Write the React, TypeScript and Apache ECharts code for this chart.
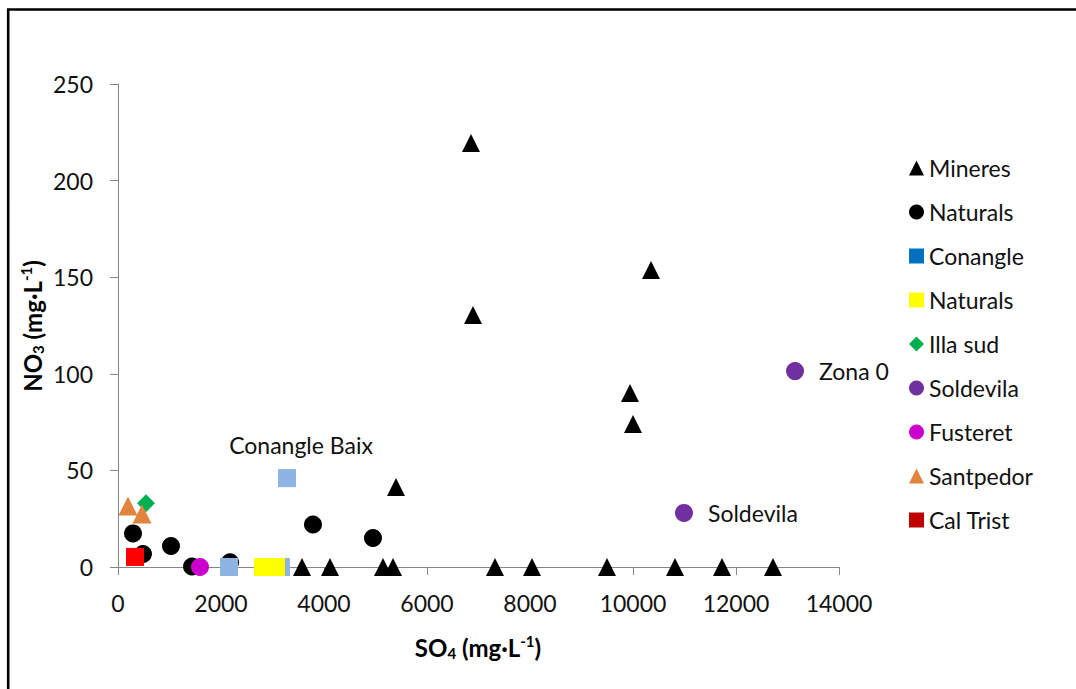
import React, { useEffect, useRef } from "react";
import * as echarts from "echarts";

const xTicks = [0, 14000, 2000];
const yTicks = [0, 250, 50];

const mineresX = [6854, 6893, 10350, 9942, 10000, 5398, 3573, 4117, 5146, 5340, 7320, 8039, 9495, 10816, 11728, 12718];
const mineresY = [219.5, 130.4, 153.7, 90.1, 74, 41.4, 0, 0, 0, 0, 0, 0, 0, 0, 0, 0];
const naturalsX = [291, 485, 1029, 1437, 2175, 3786, 4951];
const naturalsY = [17.4, 6.7, 10.9, 0.3, 2.5, 22, 15];
const conangleX = [3282, 2155, 3165];
const conangleY = [46, 0, 0];
const conangleLabels = ["Conangle Baix", "", ""];
const naturals2X = [2816, 3068];
const naturals2Y = [0, 0];
const illaX = [544];
const illaY = [33];
const soldevilaX = [13146, 10990];
const soldevilaY = [101.4, 28];
const soldevilaLabels = ["Zona 0", "Soldevila"];
const fusteretX = [1592];
const fusteretY = [0];
const santpedorX = [194, 466];
const santpedorY = [31.6, 27.4];
const calTristX = [330];
const calTristY = [5.2];

const legendNames = ["Mineres", "Naturals", "Conangle", "Naturals 2", "Illa sud", "Soldevila", "Fusteret", "Santpedor", "Cal Trist"];
const legendLabels = ["Mineres", "Naturals", "Conangle", "Naturals", "Illa sud", "Soldevila", "Fusteret", "Santpedor", "Cal Trist"];

const FONT = "Lato";

function pts(xs: number[], ys: number[]) {
  return xs.map((x, i) => [x, ys[i]]);
}

export default function App() {
  const ref = useRef<HTMLDivElement>(null);
  useEffect(() => {
    if (!ref.current) return;
    const chart = echarts.init(ref.current, null, { renderer: "svg" });
    const labelStyle = { fontFamily: FONT, fontSize: 23, color: "#111111" };
    const it = (color: string) => ({ color, opacity: 1 });
    const titleRich = {
      b: { fontFamily: FONT, fontSize: 24, fontWeight: "bold", fill: "#000" },
      sub: { fontFamily: FONT, fontSize: 15, fontWeight: "bold", fill: "#000", padding: [12, 0, 0, 0] },
      sup: { fontFamily: FONT, fontSize: 15, fontWeight: "bold", fill: "#000", padding: [0, 0, 12, 0] },
    };
    const option: any = {
      animation: false,
      backgroundColor: "#ffffff",
      grid: { left: 118, top: 84, right: 237, bottom: 122, containLabel: false },
      xAxis: {
        type: "value",
        min: xTicks[0],
        max: xTicks[1],
        interval: xTicks[2],
        splitLine: { show: false },
        axisLine: { onZero: false, lineStyle: { color: "#868686", width: 1 } },
        axisTick: { show: true, length: 8, lineStyle: { color: "#868686" } },
        axisLabel: {
          margin: 24,
          fontFamily: FONT,
          fontSize: 23,
          color: "#111111",
          formatter: (v: number) => String(v),
        },
      },
      yAxis: {
        type: "value",
        min: yTicks[0],
        max: yTicks[1],
        interval: yTicks[2],
        splitLine: { show: false },
        axisLine: { show: true, onZero: false, lineStyle: { color: "#868686", width: 1 } },
        axisTick: { show: true, length: 8, lineStyle: { color: "#868686" } },
        axisLabel: { margin: 25, fontFamily: FONT, fontSize: 23, color: "#111111", formatter: (v: number) => String(v) },
      },
      legend: {
        orient: "vertical",
        left: 904,
        top: 148,
        itemWidth: 15,
        itemHeight: 15,
        itemGap: 14,
        formatter: (name: string) => legendLabels[legendNames.indexOf(name)],
        textStyle: { fontFamily: FONT, fontSize: 23, color: "#111111", lineHeight: 30 },
        data: [
          { name: "Mineres", icon: "triangle" },
          { name: "Naturals", icon: "circle" },
          { name: "Conangle", icon: "rect" },
          { name: "Naturals 2", icon: "rect" },
          { name: "Illa sud", icon: "diamond" },
          { name: "Soldevila", icon: "circle" },
          { name: "Fusteret", icon: "circle" },
          { name: "Santpedor", icon: "triangle" },
          { name: "Cal Trist", icon: "rect" },
        ],
      },
      graphic: [
        {
          type: "rect",
          shape: { x: 8.2, y: 9.5, width: 2000, height: 2000 },
          style: { fill: "none", stroke: "#000", lineWidth: 2.6 },
          silent: true,
        },
        {
          type: "text",
          x: 32,
          y: 326,
          rotation: Math.PI / 2,
          style: {
            text: "{b|NO}{sub|3}{b| (mg·L}{sup|-1}{b|)}",
            align: "center",
            verticalAlign: "middle",
            rich: titleRich,
          },
        },
        {
          type: "text",
          x: 478,
          y: 647,
          style: {
            text: "{b|SO}{sub|4}{b| (mg·L}{sup|-1}{b|)}",
            align: "center",
            verticalAlign: "middle",
            rich: titleRich,
          },
        },
      ],
      series: [
        {
          name: "Mineres",
          type: "scatter",
          symbol: "triangle",
          symbolSize: 18,
          itemStyle: it("#000000"),
          data: pts(mineresX, mineresY),
        },
        {
          name: "Naturals",
          type: "scatter",
          symbol: "circle",
          symbolSize: 18,
          itemStyle: it("#000000"),
          data: pts(naturalsX, naturalsY),
        },
        {
          name: "Conangle",
          type: "scatter",
          symbol: "rect",
          symbolSize: 18,
          itemStyle: it("#0070C0"),
          data: conangleX.map((x, i) => ({
            value: [x, conangleY[i]],
            itemStyle: it("#8DB4E2"),
            label: conangleLabels[i]
              ? { show: true, formatter: conangleLabels[i], position: "top", offset: [14, -8], ...labelStyle }
              : { show: false },
          })),
        },
        {
          name: "Naturals 2",
          type: "scatter",
          symbol: "rect",
          symbolSize: 18,
          itemStyle: it("#FFFF00"),
          data: pts(naturals2X, naturals2Y),
        },
        {
          name: "Illa sud",
          type: "scatter",
          symbol: "diamond",
          symbolSize: 18,
          itemStyle: it("#00B050"),
          data: pts(illaX, illaY),
        },
        {
          name: "Soldevila",
          type: "scatter",
          symbol: "circle",
          symbolSize: 18,
          itemStyle: it("#7030A0"),
          data: soldevilaX.map((x, i) => ({
            value: [x, soldevilaY[i]],
            label: { show: true, formatter: soldevilaLabels[i], position: "right", distance: 15, ...labelStyle },
          })),
        },
        {
          name: "Fusteret",
          type: "scatter",
          symbol: "circle",
          symbolSize: 18,
          itemStyle: it("#CC00CC"),
          data: pts(fusteretX, fusteretY),
        },
        {
          name: "Santpedor",
          type: "scatter",
          symbol: "triangle",
          symbolSize: 19,
          itemStyle: it("#E0843E"),
          data: pts(santpedorX, santpedorY),
        },
        {
          name: "Cal Trist",
          type: "scatter",
          symbol: "rect",
          symbolSize: 18,
          itemStyle: it("#C00000"),
          data: calTristX.map((x, i) => ({ value: [x, calTristY[i]], itemStyle: it("#FF0000") })),
        },
      ],
    };
    chart.setOption(option);
    return () => chart.dispose();
  }, []);
  return (
    <div
      ref={ref}
      style={{ position: "fixed", left: 0, top: 0, width: 1076, height: 689, background: "#fff" }}
    />
  );
}
